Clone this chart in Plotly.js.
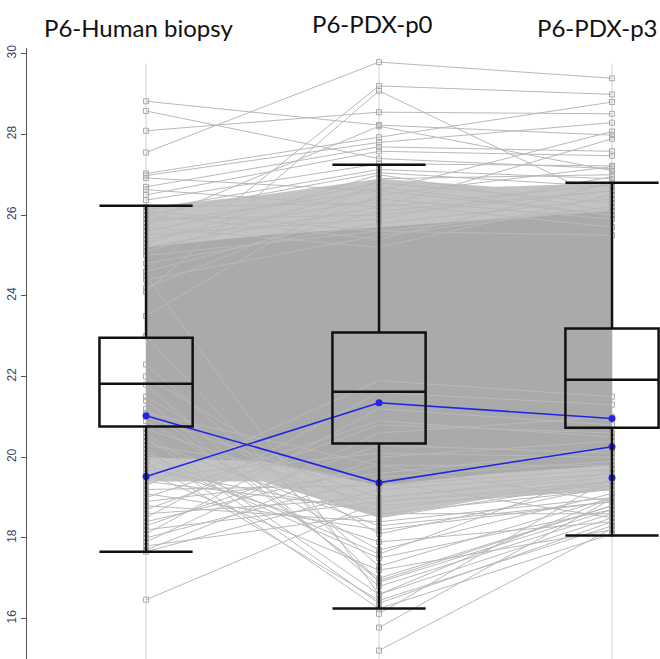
<!DOCTYPE html>
<html><head><meta charset="utf-8">
<script src="https://cdn.plot.ly/plotly-3.0.1.min.js"></script>
<style>html,body{margin:0;padding:0;background:#fff}#chart{width:660px;height:659px}</style>
</head><body><div id="chart"></div>
<script>
const categories = ["P6-Human biopsy", "P6-PDX-p0", "P6-PDX-p3"];
const yTickVals = [16, 18, 20, 22, 24, 26, 28, 30];
const yTickText = ["16", "18", "20", "22", "24", "26", "28", "30"];

// box statistics per category
const boxLowerWhisker = [17.66, 16.25, 18.06];
const boxQ1 = [20.76, 20.34, 20.73];
const boxMedian = [21.82, 21.62, 21.92];
const boxQ3 = [22.96, 23.09, 23.19];
const boxUpperWhisker = [26.23, 27.25, 26.80];

// highlighted (blue) features
const blueA = [21.03, 19.37, 20.26];
const blueB = [19.52, 21.35, 20.96];
const blueC = [null, null, 19.49];

// individual grey features (one value per category)
const humanVals = [27.55,28.82,28.58,28.09,24.6,24.1,27.03,26.98,26.92,26.70,26.63,26.50,26.37,26.12,25.80,26.00,23.50,24.20,
  25.60,25.90,26.10,25.40,25.70,25.10,25.50,26.20,24.80,25.30,26.00,24.60,25.00,25.80,25.20,24.40,
  17.66,17.70,17.80,17.90,18.00,18.10,18.20,18.30,18.40,18.50,18.60,18.70,18.80,18.90,19.00,19.10,19.20,19.30,19.40,19.50,16.47,
  20.20,21.80,19.90,20.60,21.20,19.60,22.30,20.00,20.90,19.80,21.50,20.40,22.00,19.70,20.70,21.00,null,null,null,24.50,23.00,20.50,21.40,20.10,20.30,21.10];
const p0Vals = [29.79,28.23,27.40,28.55,29.20,29.08,27.93,27.80,26.60,27.69,26.20,27.58,27.27,27.13,28.20,27.05,26.90,26.50,
  26.80,26.00,25.60,26.40,25.20,26.70,25.90,26.30,25.80,27.00,25.40,26.10,25.60,26.60,26.20,25.50,
  19.20,20.00,18.60,20.60,19.50,21.20,18.90,20.30,19.80,21.60,19.00,20.80,18.40,19.60,20.90,18.20,19.30,21.90,18.70,20.10,18.90,
  16.25,16.80,16.45,16.60,17.00,17.20,17.30,17.50,17.70,17.90,18.10,18.30,18.50,18.60,18.80,19.00,16.12,15.78,15.21,16.60,16.90,16.38,16.94,17.60,19.40,19.80];
const p3Vals = [29.39,27.98,27.15,28.51,28.99,26.30,28.80,28.29,28.07,27.58,27.89,27.47,27.22,26.90,27.10,26.70,27.00,27.20,
  26.30,26.60,26.20,25.90,26.50,26.00,26.95,25.70,26.40,26.10,26.80,26.60,25.50,26.00,26.75,26.20,
  19.60,20.40,19.20,21.00,19.90,20.80,19.30,20.10,19.80,21.30,19.50,20.60,19.00,20.20,20.50,18.90,19.70,21.50,19.40,20.00,19.40,
  18.10,18.60,18.30,18.50,18.80,18.20,19.00,18.70,19.10,18.40,19.30,18.90,19.40,18.60,19.20,19.60,19.50,18.97,18.23,19.00,18.70,18.40,18.80,19.70,18.50,18.90];

// envelope of the dense band of overlapping lines
const bandX = [0, 0.5, 1, 1.5, 2];
const outerUpper = [26.2, 26.5, 26.9, 26.7, 26.8];
const outerLower = [19.4, 19.4, 18.5, 19.0, 19.2];
const coreUpper = [25.2, 25.5, 25.7, 25.9, 26.1];
const coreLower = [20.0, 19.9, 19.3, 19.6, 19.8];

const catX = categories.map((c, i) => i);
const traces = [];

// category vertical guide lines
catX.forEach(x => traces.push({x: [x, x], y: [14.5, 29.75], mode: 'lines', line: {color: '#d2d2d2', width: 1}, hoverinfo: 'skip'}));

function band(upper, lower, color) {
  return {x: bandX.concat(bandX.slice().reverse()), y: upper.concat(lower.slice().reverse()),
    mode: 'lines', fill: 'toself', fillcolor: color, line: {width: 0, color: color}, hoverinfo: 'skip'};
}
traces.push(band(outerUpper, outerLower, '#c3c3c3'));
traces.push(band(coreUpper, coreLower, '#aaaaaa'));

// grey feature lines in a single trace separated by gaps
const gx = [], gy = [];
for (let i = 0; i < humanVals.length; i++) {
  [humanVals[i], p0Vals[i], p3Vals[i]].forEach((v, j) => { gx.push(j); gy.push(v); });
  gx.push(null); gy.push(null);
}
traces.push({x: gx, y: gy, mode: 'lines+markers', connectgaps: false,
  line: {color: '#b9b9b9', width: 1},
  marker: {symbol: 'square-open', size: 5, color: '#a8a8a8', line: {width: 1}}, hoverinfo: 'skip'});

// blue features
[blueA, blueB, blueC].forEach(arr => traces.push({x: catX, y: arr, mode: 'lines+markers',
  line: {color: '#2323e8', width: 1.6}, marker: {color: '#2323e8', size: 7}, hoverinfo: 'skip'}));

// box outlines from the statistics
const hw = 0.2;
const shapes = [];
const blk = {color: '#111', width: 2.5};
catX.forEach((x, i) => {
  shapes.push({type: 'rect', xref: 'x', yref: 'y', x0: x - hw, x1: x + hw, y0: boxQ1[i], y1: boxQ3[i], line: blk, fillcolor: 'rgba(0,0,0,0)', layer: 'above'});
  shapes.push({type: 'line', xref: 'x', yref: 'y', x0: x - hw, x1: x + hw, y0: boxMedian[i], y1: boxMedian[i], line: blk, layer: 'above'});
  shapes.push({type: 'line', xref: 'x', yref: 'y', x0: x, x1: x, y0: boxQ3[i], y1: boxUpperWhisker[i], line: blk, layer: 'above'});
  shapes.push({type: 'line', xref: 'x', yref: 'y', x0: x, x1: x, y0: boxQ1[i], y1: boxLowerWhisker[i], line: blk, layer: 'above'});
  shapes.push({type: 'line', xref: 'x', yref: 'y', x0: x - hw, x1: x + hw, y0: boxUpperWhisker[i], y1: boxUpperWhisker[i], line: blk, layer: 'above'});
  shapes.push({type: 'line', xref: 'x', yref: 'y', x0: x - hw, x1: x + hw, y0: boxLowerWhisker[i], y1: boxLowerWhisker[i], line: blk, layer: 'above'});
});

const labelX = [0.176, 0.546, 0.902];
const labelY = [1.033, 1.040, 1.033];
const annotations = categories.map((c, i) => ({text: c, xref: 'paper', yref: 'paper', x: labelX[i], y: labelY[i],
  xanchor: 'center', yanchor: 'middle', showarrow: false, font: {family: 'Lato, sans-serif', size: 24, color: '#111'}}));

const layout = {
  width: 660, height: 659, margin: {l: 27, r: 0, t: 48, b: 0},
  paper_bgcolor: '#fff', plot_bgcolor: '#fff', showlegend: false,
  xaxis: {range: [-0.511, 2.206], visible: false},
  yaxis: {range: [15, 30.14], tickvals: yTickVals, ticktext: yTickText, ticks: 'outside', ticklen: 5, tickwidth: 1,
    tickcolor: '#555', showline: true, linecolor: '#555', linewidth: 1.5, showgrid: false, zeroline: false,
    tickangle: -90, tickfont: {family: 'Liberation Sans, Arial', size: 12, color: '#34466e'}},
  shapes: shapes, annotations: annotations
};
Plotly.newPlot('chart', traces, layout, {displayModeBar: false, staticPlot: true});
</script></body></html>
